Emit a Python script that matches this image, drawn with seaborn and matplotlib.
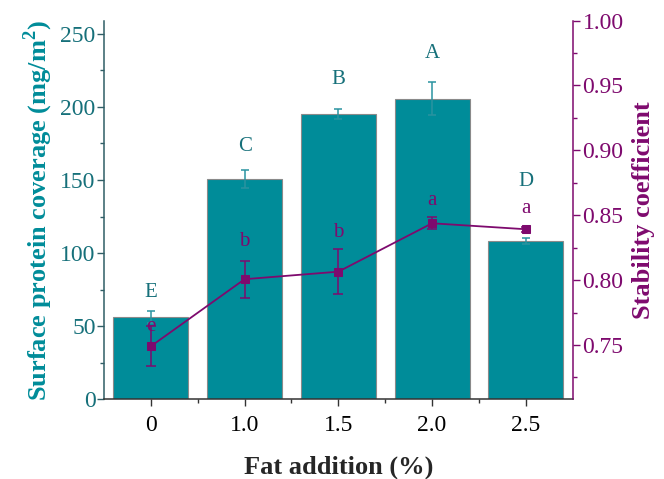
import numpy as np
import pandas as pd
import matplotlib
matplotlib.use("Agg")
import matplotlib.pyplot as plt
import seaborn as sns

# ---- data ----
fat_levels = ["0", "1.0", "1.5", "2.0", "2.5"]
coverage = [56.4, 150.8, 195.0, 205.7, 108.3]
coverage_err = [4.3, 6.0, 3.3, 11.0, 2.0]
coverage_letters = ["E", "C", "B", "A", "D"]
stability = [0.749, 0.8007, 0.8065, 0.8438, 0.8392]
stability_err = [0.0154, 0.0144, 0.0175, 0.0046, 0.0020]
stability_letters = ["e", "b", "b", "a", "a"]

left_ticks = [0, 50, 100, 150, 200, 250]
right_ticks = [0.75, 0.80, 0.85, 0.90, 0.95, 1.00]

# ---- style ----
sns.set_style("ticks")
plt.rcParams["font.family"] = ["Liberation Serif", "DejaVu Serif"]
plt.rcParams["mathtext.fontset"] = "custom"
plt.rcParams["mathtext.rm"] = "Liberation Serif"
plt.rcParams["mathtext.bf"] = "Liberation Serif:bold"

TEAL = "#008C99"
TEAL_DARK = "#16707A"
TEAL_ERR = "#2A93A0"
PURPLE = "#7E0A6E"
SPINE_L = "#2F5E66"

up_offsets = [13, 17, 21.5, 21, 41]   # points above error cap
low_offsets = [0, 14, 12, 12, 13]

fig = plt.figure(figsize=(6.64, 4.79), dpi=100)
ax = fig.add_axes([0.1566, 0.166, 0.7059, 0.791])

df = pd.DataFrame({"fat": fat_levels, "coverage": coverage})
sns.barplot(data=df, x="fat", y="coverage", order=fat_levels, color=TEAL,
            saturation=1, width=0.8, edgecolor="#8a8a8a", linewidth=0.8, ax=ax)
xpos = np.arange(len(fat_levels))
ax.errorbar(xpos, coverage, yerr=coverage_err, fmt="none", ecolor=TEAL_ERR,
            elinewidth=1.1, capsize=3, capthick=1.1, zorder=3)
for x, v, e, t, o in zip(xpos, coverage, coverage_err, coverage_letters, up_offsets):
    ax.annotate(t, (x, v + e), xytext=(0, o), textcoords="offset points",
                ha="center", va="center", color=TEAL_DARK, fontsize=15)

ax.set_ylim(0, 259)
ax.set_xlim(-0.5, 4.5)
ax.set_yticks(left_ticks)
ax.set_yticks(np.arange(25, 259, 50), minor=True)
ax.set_xticks(np.arange(0.5, 4.5, 1.0), minor=True)
ax.tick_params(axis="y", which="both", direction="out", colors=SPINE_L,
               labelcolor=TEAL_DARK, labelsize=17, length=5, width=1, pad=1)
ax.tick_params(axis="y", which="minor", length=3)
ax.tick_params(axis="x", which="both", direction="out", colors="#333333",
               labelcolor="black", labelsize=17, length=5, width=1, pad=6)
ax.tick_params(axis="x", which="minor", length=3)
ax.set_xlabel("Fat addition (%)", fontsize=19, fontweight="bold", labelpad=14)
ax.set_ylabel("Surface protein coverage (mg/m$^\\mathbf{2}$)", fontsize=19,
              fontweight="bold", color=TEAL, labelpad=4)
ax.spines["left"].set_color(SPINE_L)
ax.spines["bottom"].set_color("#333333")
ax.spines["top"].set_visible(False)
ax.spines["right"].set_visible(False)
for s in ("left", "bottom"):
    ax.spines[s].set_linewidth(1.1)

ax2 = ax.twinx()
sdf = pd.DataFrame({"x": xpos, "stability": stability})
sns.lineplot(data=sdf, x="x", y="stability", color=PURPLE, marker="s",
             markersize=6, markeredgecolor=PURPLE, linewidth=1.3, ax=ax2)
ax2.errorbar(xpos, stability, yerr=stability_err, fmt="none", ecolor=PURPLE,
             elinewidth=1.1, capsize=3.3, capthick=1.1)
for x, v, e, t, o in zip(xpos, stability, stability_err, stability_letters, low_offsets):
    ax2.annotate(t, (x, v + e), xytext=(0, o), textcoords="offset points",
                 ha="center", va="center", color=PURPLE, fontsize=15)
ax2.set_xlim(-0.5, 4.5)
ax2.set_ylim(0.708, 1.0)
ax2.set_yticks(right_ticks)
ax2.set_yticks(np.arange(0.725, 1.0, 0.05), minor=True)
ax2.set_yticklabels([f"{t:.2f}" for t in right_ticks])
ax2.tick_params(axis="y", which="both", direction="out", colors=PURPLE,
                labelcolor=PURPLE, labelsize=17, length=5, width=1, pad=2)
ax2.tick_params(axis="y", which="minor", length=3)
ax2.set_ylabel("Stability coefficient", fontsize=19, fontweight="bold",
               color=PURPLE, labelpad=6)
ax2.set_xlabel("")
ax2.spines["right"].set_color(PURPLE)
ax2.spines["right"].set_linewidth(1.1)
for s in ("left", "top", "bottom"):
    ax2.spines[s].set_visible(False)

fig.savefig("out.png", dpi=100)
